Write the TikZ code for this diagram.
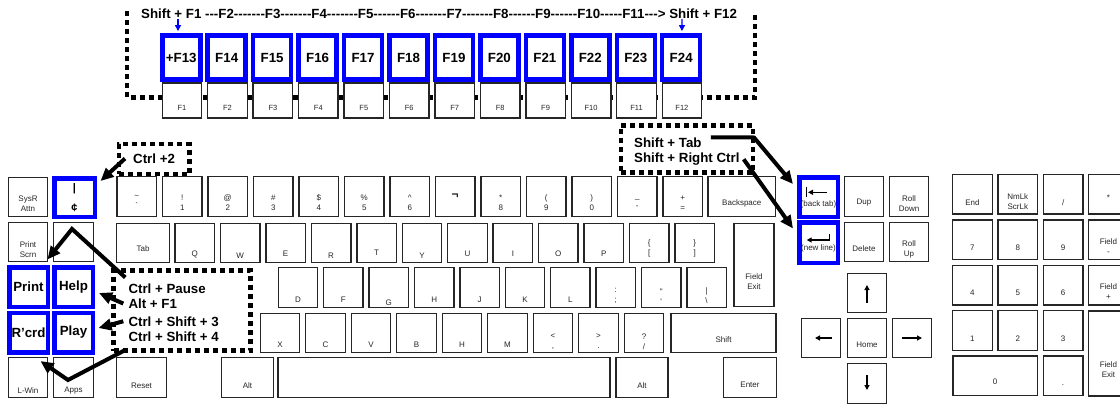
\documentclass[tikz,border=0pt]{standalone}
\usepackage{fontspec}
\setmainfont{Liberation Sans}
\newfontfamily\kbfont{Liberation Sans}
\usetikzlibrary{arrows.meta,calc}

\begin{document}
\begin{tikzpicture}[x=1pt,y=-1pt,
    kbkey/.style={draw=black!85,line width=1.4pt,fill=white,inner sep=0pt,
        minimum width=39.5pt,minimum height=39.5pt},
    klbl/.style={font=\kbfont\fontsize{8}{10}\selectfont,text=black!85,
        align=center,inner sep=0pt},
    bkey/.style={draw=blue,line width=4.5pt,fill=white,inner sep=0pt,align=center,
        minimum width=38.5pt,minimum height=39.5pt,
        font=\kbfont\bfseries\fontsize{13.3}{15}\selectfont},
    dotline/.style={line width=4.5pt,dash pattern=on 5pt off 4pt},
    dotbox/.style={draw,dotline,fill=white,inner sep=0pt},
    hint/.style={font=\kbfont\bfseries\fontsize{13.3}{15}\selectfont,
        inner sep=0pt,anchor=base west},
    bigarrow/.style={line width=4pt,-{Triangle[length=13pt,width=11.5pt]}},
    bluearrow/.style={draw=blue,line width=1.3pt,-{Triangle[length=6pt,width=6pt]}},
    glyph/.style={line width=1.3pt,-{Triangle[length=5pt,width=5pt]}}]
    \useasboundingbox (0,0) rectangle (1120,404);
    \clip (0,0) rectangle (1120,404);

    \draw[dotline] (127,11) -- (127,97.5) -- (755,97.5) -- (755,12);
    \node[hint] (fnline) at (141,18.3)
        {Shift + F1 ---F2-------F3-------F4-------F5------F6-------F7-------F8------F9------F10-----F11---> Shift + F12};
    \foreach \lbl [count=\i] in {+F13,F14,F15,F16,F17,F18,F19,F20,F21,F22,F23,F24}
        \node[bkey,minimum width=38pt,minimum height=44pt] (s\i) at ({181.25+45.45*(\i-1)},57.5) {\lbl};
    \foreach \i in {1,...,12} {
        \node[kbkey,minimum height=35pt] (f\i) at ({182+45.45*(\i-1)},100.5) {};
        \node[klbl,font=\kbfont\fontsize{7.5}{9}\selectfont] at ([yshift=-7.8pt]f\i.center) {F\i};
    }
    \coordinate (fa) at (178,19);
    \coordinate (fb) at (682,19);
    \draw[bluearrow] (fa) -- ([xshift=-3.25pt,yshift=2.2pt]s1.north);
    \draw[bluearrow] (fb) -- ([xshift=0.75pt,yshift=2.2pt]s12.north);

    \node[kbkey] (sysr) at (28,197) {};
    \node[klbl] at ([yshift=-6.7pt]sysr.center) {SysR\\Attn};
    \node[bkey,minimum width=40.5pt,minimum height=38.5pt,
        font=\kbfont\bfseries\fontsize{11}{13}\selectfont] (cent) at (74.5,197.5) {|\\[7pt]¢};
    \node[kbkey] (prscrn) at (28,242) {};
    \node[klbl] at ([yshift=-8pt]prscrn.center) {Print\\Scrn};
    \node[kbkey] (blank) at (73.5,242) {};
    \node[bkey] (print) at (28.5,287) {Print};
    \node[bkey] (help) at (73.5,287) {Help};
    \node[bkey] (rcrd) at (28.5,332.5) {R’crd};
    \node[bkey] (play) at (73.5,332.5) {Play};
    \node[kbkey] (lwin) at (28,377.5) {};
    \node[klbl] at ([yshift=-13pt]lwin.center) {L-Win};
    \node[kbkey] (apps) at (73.5,377.5) {};
    \node[klbl] at ([yshift=-13pt]apps.center) {Apps};

    \foreach \lbl/\dy [count=\i] in {{\textasciitilde\\`}/5,{!\\1}/6.5,{@\\2}/6.5,{\#\\3}/6.5,
            {\$\\4}/6.5,{\%\\5}/6.5,{\textasciicircum\\6}/6.5,{\bfseries\fontsize{12}{12}\selectfont ¬}/0,
            {*\\8}/6.5,{(\\9}/6.5,{)\\0}/6.5,{\_\\-}/6.5,{+\\=}/6.5} {
        \node[kbkey] (n\i) at ({136.75+45.5*(\i-1)},196.5) {};
        \node[klbl] at ([yshift=-\dy pt]n\i.center) {\lbl};
    }
    \node[kbkey,minimum width=67.5pt] (bksp) at (741.8,196.5) {};
    \node[klbl] at ([yshift=-7pt]bksp.center) {Backspace};

    \node[kbkey,minimum width=52.5pt] (tab) at (143,243) {};
    \node[klbl] at ([yshift=-6pt]tab.center) {Tab};
    \foreach \lbl/\dy [count=\i] in {Q/11,W/12.5,E/10.5,R/12.5,T/10,Y/12.5,U/10.5,I/10.5,
            O/11,P/11,{\{\\{[}}/5.3,{\}\\{]}}/5.3} {
        \node[kbkey] (q\i) at ({194.75+45.45*(\i-1)},243) {};
        \node[klbl] at ([yshift=-\dy pt]q\i.center) {\lbl};
    }
    \node[kbkey,minimum width=40pt,minimum height=83pt] (fexit) at (754,264.7) {};
    \node[klbl] at ([yshift=-17pt]fexit.center) {Field\\Exit};

    \foreach \lbl/\dy [count=\i] in {D/12.5,F/12.5,G/15,H/12.5,J/12.5,K/12.5,L/12.5,
            {:\\;}/8.5,{"\\'}/9.5,{|\\\textbackslash}/8} {
        \node[kbkey] (a\i) at ({298+45.4*(\i-1)},287.5) {};
        \node[klbl] at ([yshift=-\dy pt]a\i.center) {\lbl};
    }

    \foreach \lbl/\dy [count=\i] in {X/12,C/12,V/12,B/12,H/12,M/12,{<\\,}/8.5,{>\\.}/8.5,{?\\/}/8.5} {
        \node[kbkey] (z\i) at ({280+45.5*(\i-1)},333) {};
        \node[klbl] at ([yshift=-\dy pt]z\i.center) {\lbl};
    }
    \node[kbkey,minimum width=105pt] (rshift) at (723.5,333) {};
    \node[klbl] at ([yshift=-6.3pt]rshift.center) {Shift};

    \node[kbkey,minimum width=50.5pt] (reset) at (141.5,377.5) {};
    \node[klbl] at ([yshift=-8.5pt]reset.center) {Reset};
    \node[kbkey,minimum width=51.5pt] (lalt) at (247.5,377.5) {};
    \node[klbl] at ([yshift=-8pt]lalt.center) {Alt};
    \node[kbkey,minimum width=332pt] (space) at (444,377.5) {};
    \node[kbkey,minimum width=52pt] (ralt) at (642,377.5) {};
    \node[klbl] at ([yshift=-8pt]ralt.center) {Alt};
    \node[kbkey,minimum width=53.5pt] (enter) at (750,377.5) {};
    \node[klbl] at ([yshift=-7.5pt]enter.center) {Enter};

    \node[bkey,minimum height=39.5pt] (btab) at (818.5,197) {};
    \node[klbl] at ([yshift=-7pt]btab.center) {(back tab)};
    \node[kbkey] (dup) at (864,196.5) {};
    \node[klbl] at ([yshift=-6.2pt]dup.center) {Dup};
    \node[kbkey] (rdown) at (909,196.5) {};
    \node[klbl] at ([yshift=-6.8pt]rdown.center) {Roll\\Down};
    \node[bkey,minimum height=40.5pt] (newline) at (818.5,242.5) {};
    \node[klbl] at ([yshift=-6pt]newline.center) {(new line)};
    \node[kbkey] (delete) at (864,242) {};
    \node[klbl] at ([yshift=-7pt]delete.center) {Delete};
    \node[kbkey] (rup) at (909,242) {};
    \node[klbl] at ([yshift=-7.2pt]rup.center) {Roll\\Up};

    \node[kbkey] (kup) at (867,293) {};
    \node[kbkey] (kleft) at (821,338) {};
    \node[kbkey] (khome) at (867,338) {};
    \node[klbl] at ([yshift=-7pt]khome.center) {Home};
    \node[kbkey] (kright) at (912,338) {};
    \node[kbkey] (kdown) at (867,383.5) {};

    \foreach \lbl/\dy [count=\i] in {End/8.5,{NmLk\\ScrLk}/7,{/}/8.5,*/4} {
        \node[kbkey] (pa\i) at ({972.45+45.33*(\i-1)},194.15) {};
        \node[klbl] at ([yshift=-\dy pt]pa\i.center) {\lbl};
    }
    \foreach \lbl/\dy [count=\i] in {7/7.6,8/7.6,9/7.6,{Field\\-}/7} {
        \node[kbkey] (pb\i) at ({972.45+45.33*(\i-1)},239.65) {};
        \node[klbl] at ([yshift=-\dy pt]pb\i.center) {\lbl};
    }
    \foreach \lbl/\dy [count=\i] in {4/7.4,5/7.4,6/7.4,{Field\\+}/6.7} {
        \node[kbkey] (pc\i) at ({972.45+45.33*(\i-1)},285.35) {};
        \node[klbl] at ([yshift=-\dy pt]pc\i.center) {\lbl};
    }
    \foreach \lbl/\dy [count=\i] in {1/7.8,2/7.8,3/7.8} {
        \node[kbkey] (pd\i) at ({972.45+45.33*(\i-1)},330.5) {};
        \node[klbl] at ([yshift=-\dy pt]pd\i.center) {\lbl};
    }
    \node[kbkey,minimum height=85pt] (pexit) at (1108.45,353.5) {};
    \node[klbl] at ([yshift=-16.2pt]pexit.center) {Field\\Exit};
    \node[kbkey,minimum width=84.5pt] (pzero) at (995.1,375.85) {};
    \node[klbl] at ([yshift=-6.3pt]pzero.center) {0};
    \node[kbkey] (pdot) at (1063.1,375.85) {};
    \node[klbl] at ([yshift=-9pt]pdot.center) {.};

    \node[dotbox,minimum width=70.5pt,minimum height=30pt] (c2box) at (154.3,159) {};
    \node[dotbox,minimum width=132pt,minimum height=47pt] (tabbox) at (687,149) {};
    \node[dotbox,minimum width=137pt,minimum height=80pt] (pausebox) at (182,310.5) {};
    \node[hint] (ctrl2) at (133,163.3) {Ctrl +2};
    \node[hint] (stab) at (634,147.3) {Shift + Tab};
    \node[hint] (srctrl) at (634,162.7) {Shift + Right Ctrl};
    \node[hint] (cpause) at (128.3,293.3) {Ctrl + Pause};
    \node[hint] (altf1) at (128.3,308.3) {Alt + F1};
    \node[hint] (cs3) at (128.3,326) {Ctrl + Shift + 3};
    \node[hint] (cs4) at (128.3,341) {Ctrl + Shift + 4};

    \draw[bigarrow] ([xshift=-8pt]ctrl2.west) -- ([shift={(3.5pt,-5pt)}]cent.north east);
    \coordinate (tabbend) at (754,137.5);
    \draw[bigarrow] ([xshift=9pt]stab.north east) -- (tabbend) -- ([shift={(-4pt,13pt)}]btab.west);
    \draw[bigarrow] ([xshift=4pt]srctrl.east) -- ([shift={(-4pt,14pt)}]newline.west);
    \coordinate (prtbend) at (72,229);
    \draw[bigarrow] ([shift={(-3pt,6pt)}]cpause.north west) -- (prtbend)
        -- ([shift={(-1pt,3pt)}]prscrn.south east);
    \draw[bigarrow] ([xshift=-5pt]altf1.west) -- ([shift={(4pt,-6pt)}]help.east);
    \draw[bigarrow] ([xshift=-5pt]cs3.west) -- ([shift={(3.5pt,4.5pt)}]play.east);
    \coordinate (winbend) at (68,380);
    \draw[bigarrow] ([shift={(-3pt,-9pt)}]cs4.base west) -- (winbend)
        -- ([shift={(-8pt,-4pt)}]lwin.north east);

    \draw[line width=1.3pt] ([shift={(-11.8pt,10.3pt)}]btab.center) -- ([shift={(-11.8pt,-0.3pt)}]btab.center);
    \draw[glyph] ([shift={(8.2pt,4.7pt)}]btab.center) -- ([shift={(-10.5pt,4.7pt)}]btab.center);
    \draw[glyph] ([shift={(10.8pt,8.5pt)}]newline.center) -- ([shift={(10.8pt,2.5pt)}]newline.center)
        -- ([shift={(-11.8pt,2.5pt)}]newline.center);
    \draw[glyph] ([yshift=-10pt]kup.center) -- ([yshift=8pt]kup.center);
    \draw[glyph] ([xshift=11pt]kleft.center) -- ([xshift=-6pt]kleft.center);
    \draw[glyph] ([xshift=-10pt]kright.center) -- ([xshift=10pt]kright.center);
    \draw[glyph] ([yshift=8.5pt]kdown.center) -- ([yshift=-6.5pt]kdown.center);
\end{tikzpicture}
\end{document}
